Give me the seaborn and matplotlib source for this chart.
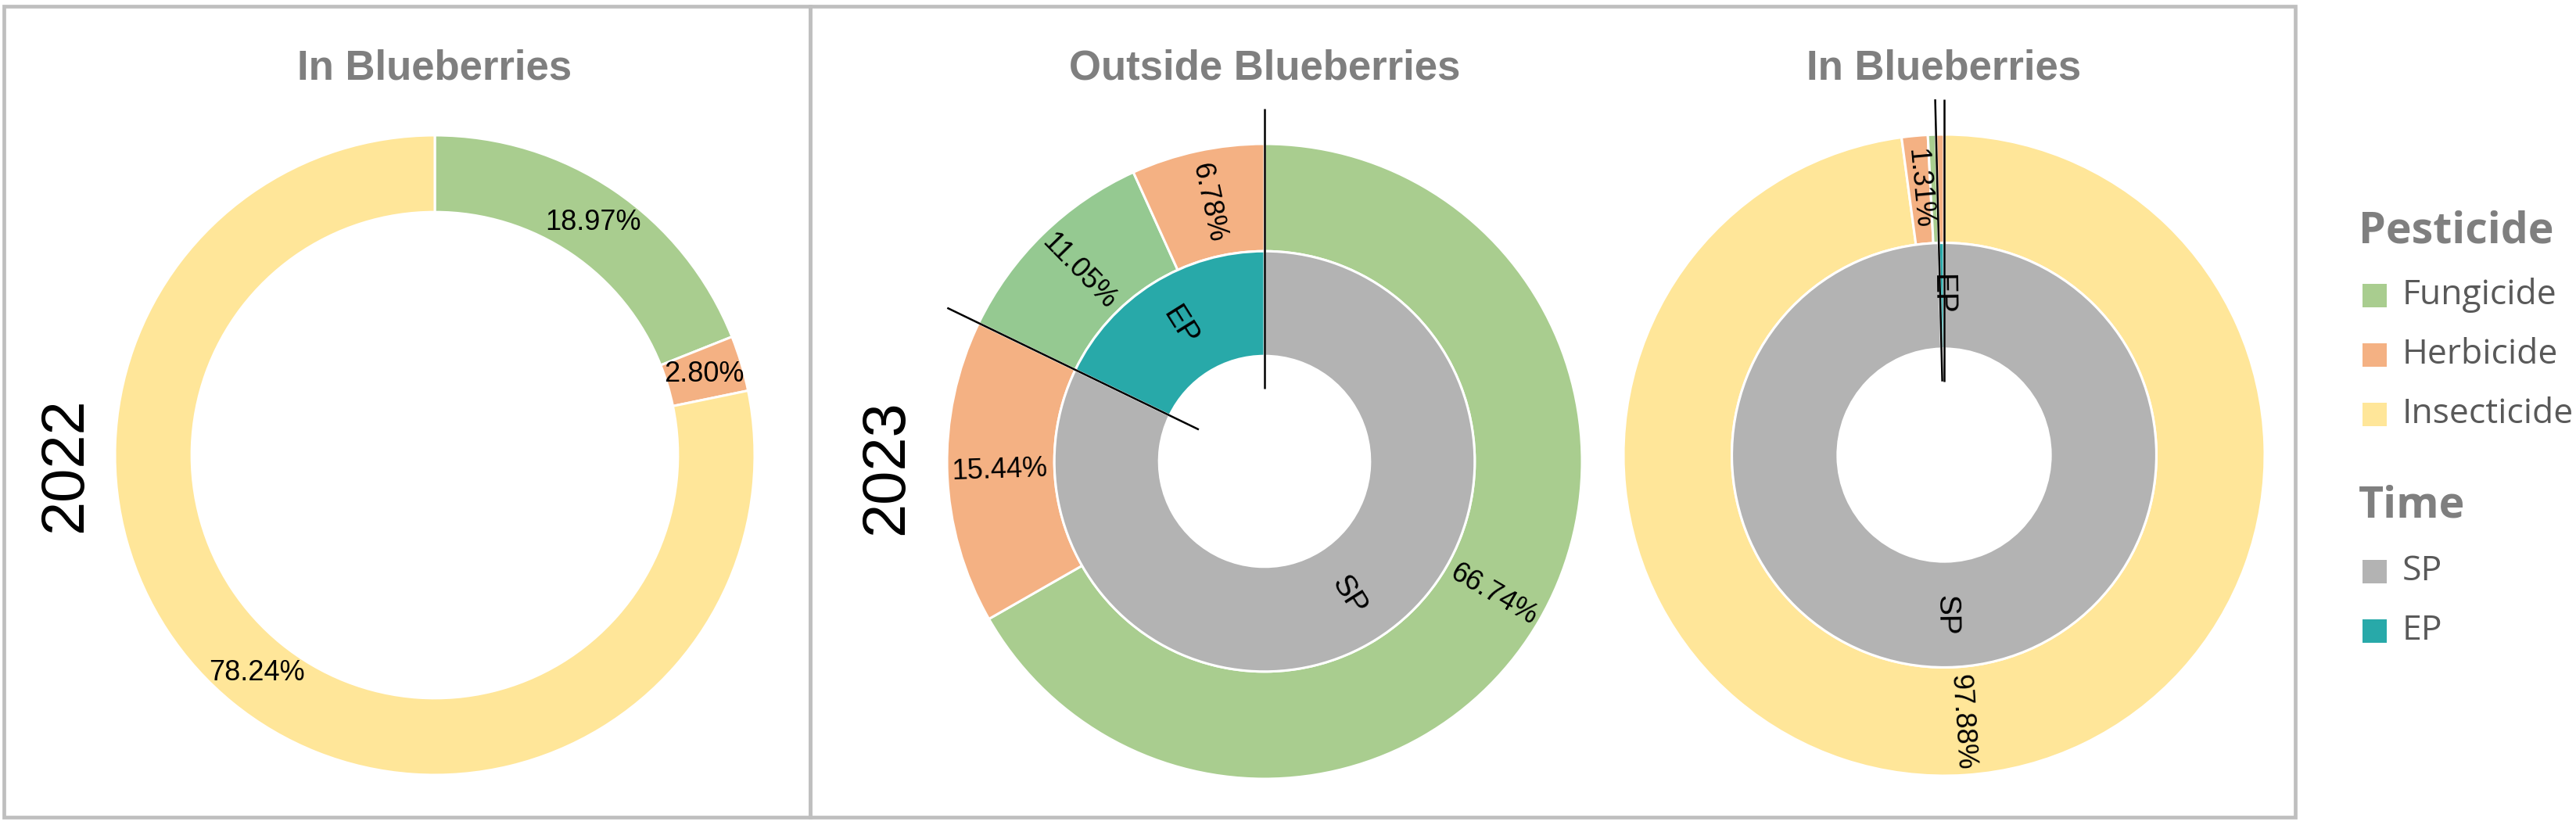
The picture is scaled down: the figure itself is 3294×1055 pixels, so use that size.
import numpy as np
import pandas as pd
import matplotlib.pyplot as plt
import seaborn as sns
from matplotlib.patches import Rectangle

sns.set_theme(style="white")
plt.rcParams["font.family"] = ["Liberation Sans Narrow", "Liberation Sans", "DejaVu Sans"]

W, H, DPI = 3294, 1055, 200

pesticides = ["Fungicide", "Herbicide", "Insecticide"]
times = ["SP", "EP"]

# 2022 - in blueberries (single ring)
pest_2022_in = ["Fungicide", "Herbicide", "Insecticide"]
pct_2022_in = [18.97, 2.80, 78.24]

# 2023 - outside blueberries (outer ring: pesticide within time)
pest_2023_out = ["Fungicide", "Herbicide", "Fungicide", "Herbicide"]
time_2023_out = ["SP", "SP", "EP", "EP"]
pct_2023_out = [66.74, 15.44, 11.05, 6.78]

# 2023 - in blueberries
pest_2023_in = ["Insecticide", "Herbicide", "Fungicide", "Herbicide"]
time_2023_in = ["SP", "SP", "SP", "EP"]
pct_2023_in = [97.88, 1.31, 0.41, 0.40]

pest_colors = {"Fungicide": "#a9cd8f", "Herbicide": "#f4b183", "Insecticide": "#ffe699"}
ep_colors = {"Fungicide": "#95c991", "Herbicide": "#f4b183", "Insecticide": "#ffe699"}
time_colors = {"SP": "#b3b3b3", "EP": "#28a9a9"}

fig = plt.figure(figsize=(W / DPI, H / DPI), dpi=DPI)
fig.patch.set_facecolor("white")

# panel frames
for x0, x1 in [(5, 1036), (1036, 2935)]:
    fig.add_artist(Rectangle((x0 / W, 1 - 1045 / H), (x1 - x0) / W, (1045 - 8) / H,
                             transform=fig.transFigure, fill=False,
                             edgecolor="#bfbfbf", lw=1.7))


def donut_ax(cx, cy, R, L=1.2):
    w = 2 * L * R
    ax = fig.add_axes([(cx - w / 2) / W, 1 - (cy + w / 2) / H, w / W, w / H])
    return ax


def finish(ax, L=1.2):
    ax.set_xlim(-L, L)
    ax.set_ylim(-L, L)
    ax.set_aspect("equal")
    ax.axis("off")


def upright(a):
    a = (a + 180) % 360 - 180
    if a > 90:
        a -= 180
    elif a < -90:
        a += 180
    return a


def label_ring(ax, wedges, texts, r, rotate=True, size=13):
    for wd, t in zip(wedges, texts):
        if not t:
            continue
        mid = (wd.theta1 + wd.theta2) / 2
        x, y = r * np.cos(np.radians(mid)), r * np.sin(np.radians(mid))
        ax.text(x, y, t, ha="center", va="center", fontsize=size, color="black",
                rotation=upright(mid) if rotate else 0, rotation_mode="anchor")


def leader(ax, ang):
    a = np.radians(ang)
    ax.plot([0.23 * np.cos(a), 1.11 * np.cos(a)], [0.23 * np.sin(a), 1.11 * np.sin(a)],
            color="black", lw=0.9, solid_capstyle="butt", zorder=5)


wp = dict(edgecolor="white", linewidth=1.1)

# ---- 2022 in blueberries
ax1 = donut_ax(556, 582, 409)
w1, _ = ax1.pie(pct_2022_in, colors=[pest_colors[p] for p in pest_2022_in],
                startangle=90, counterclock=False, radius=1,
                wedgeprops=dict(width=0.24, **wp))
label_ring(ax1, w1, [f"{v:.2f}%" for v in pct_2022_in], 0.88, rotate=False)
finish(ax1)


def two_ring(ax, pests, tms, pcts):
    df = pd.DataFrame({"pest": pests, "time": tms, "pct": pcts})
    inner = df.groupby("time", sort=False)["pct"].sum()
    cols = [(ep_colors if t == "EP" else pest_colors)[p] for p, t in zip(pests, tms)]
    wo, _ = ax.pie(df["pct"], colors=cols, startangle=90, counterclock=False,
                   radius=1, wedgeprops=dict(width=0.338, **wp))
    wi, _ = ax.pie(inner.values, colors=[time_colors[t] for t in inner.index],
                   startangle=90, counterclock=False, radius=0.662,
                   wedgeprops=dict(width=0.33, **wp))
    label_ring(ax, wo, [f"{v:.2f}%" if v >= 1 else "" for v in pcts], 0.835)
    label_ring(ax, wi, list(inner.index), 0.5, size=14)
    leader(ax, 90)
    leader(ax, wi[0].theta1)  # SP / EP boundary
    finish(ax)


# ---- 2023 outside blueberries
ax2 = donut_ax(1617, 590, 406)
two_ring(ax2, pest_2023_out, time_2023_out, pct_2023_out)

# ---- 2023 in blueberries
ax3 = donut_ax(2486, 582, 410)
two_ring(ax3, pest_2023_in, time_2023_in, pct_2023_in)

# titles and year labels
title_kw = dict(ha="center", va="center", fontsize=19, fontweight="bold", color="#7f7f7f")
fig.text(556 / W, 1 - 88 / H, "In Blueberries", **title_kw)
fig.text(1617 / W, 1 - 88 / H, "Outside Blueberries", **title_kw)
fig.text(2486 / W, 1 - 88 / H, "In Blueberries", **title_kw)
year_kw = dict(ha="center", va="center", rotation=90, fontsize=28, color="black",
               family=["Liberation Sans", "DejaVu Sans"])
fig.text(84 / W, 1 - 595 / H, "2022", **year_kw)
fig.text(1134 / W, 1 - 598 / H, "2023", **year_kw)

# legend, drawn as swatches + text in figure pixels
leg_font = ["Open Sans", "DejaVu Sans"]
groups = [("Pesticide", 296, pesticides, pest_colors, 378),
          ("Time", 647, times, time_colors, 731)]
for title, ty, items, cmap, y0 in groups:
    fig.text(3016 / W, 1 - ty / H, title, ha="left", va="center", fontsize=20,
             fontweight="bold", color="#7f7f7f", family=leg_font)
    for i, name in enumerate(items):
        y = y0 + i * 76
        fig.add_artist(Rectangle((3021 / W, 1 - (y + 15) / H), 31 / W, 30 / H,
                                 transform=fig.transFigure, facecolor=cmap[name],
                                 edgecolor="none"))
        fig.text(3072 / W, 1 - y / H, name, ha="left", va="center", fontsize=16,
                 color="#595959", family=leg_font)

fig.savefig("out.png", dpi=DPI)
